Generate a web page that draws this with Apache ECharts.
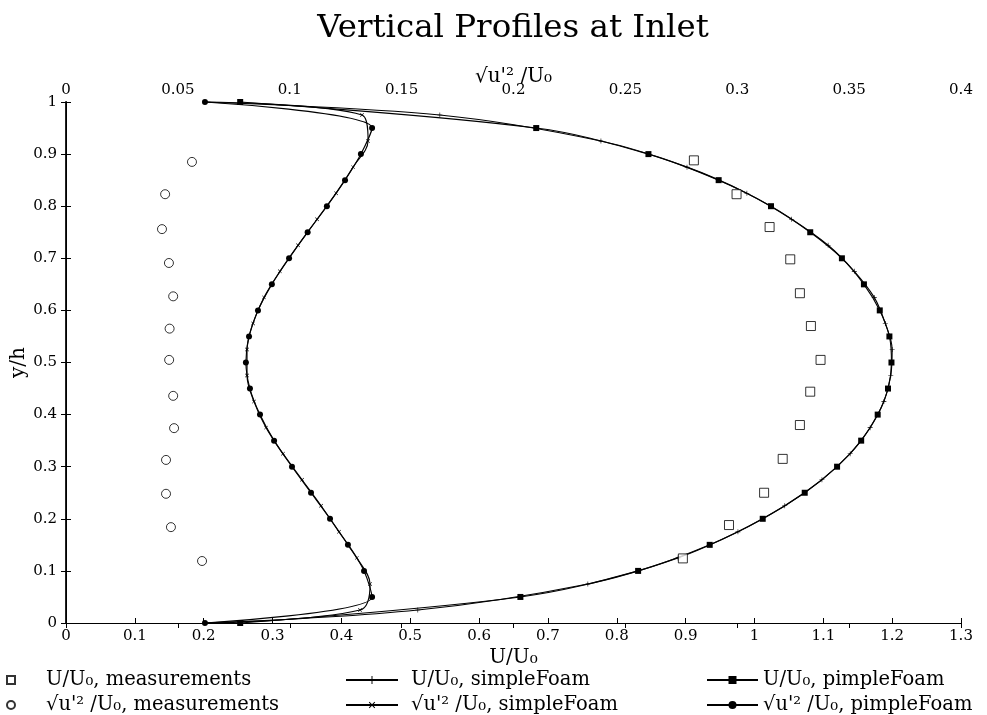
<!DOCTYPE html>
<html><head><meta charset="utf-8">
<script src="https://cdn.jsdelivr.net/npm/echarts@6/dist/echarts.min.js"></script>
<style>html,body{margin:0;padding:0;background:#fff}#c{width:987px;height:715px}</style>
</head><body><div id="c"></div>
<script>
// ---- data ----
const yPimple = [0,0.05,0.1,0.15,0.2,0.25,0.3,0.35,0.4,0.45,0.5,0.55,0.6,0.65,0.7,0.75,0.8,0.85,0.9,0.95,1];
const uPimple = [0.253,0.66,0.831,0.935,1.012,1.073,1.120,1.155,1.179,1.194,1.199,1.196,1.182,1.159,1.127,1.081,1.024,0.948,0.846,0.683,0.253];
const sPimple = [0.0621,0.1368,0.1332,0.126,0.118,0.1095,0.101,0.093,0.0867,0.0822,0.0804,0.0818,0.0858,0.092,0.0997,0.108,0.1166,0.1247,0.1318,0.1368,0.0621];
const ySimple = [0,0.025,0.075,0.125,0.175,0.225,0.275,0.325,0.375,0.425,0.475,0.525,0.575,0.625,0.675,0.725,0.775,0.825,0.875,0.925,0.975,1];
const uSimple = [0.2,0.511,0.758,0.889,0.976,1.044,1.098,1.139,1.168,1.188,1.198,1.200,1.19,1.174,1.145,1.107,1.054,0.989,0.902,0.777,0.543,0.2];
const sSimple = [0.0621,0.1314,0.1359,0.130,0.122,0.114,0.1055,0.097,0.0894,0.084,0.0809,0.0809,0.0836,0.0885,0.0956,0.1037,0.1122,0.1207,0.1283,0.135,0.1323,0.0621];
const yMeasU = [0.124,0.188,0.25,0.315,0.38,0.444,0.505,0.57,0.633,0.698,0.76,0.823,0.888];
const uMeas  = [0.896,0.963,1.014,1.041,1.066,1.081,1.096,1.082,1.066,1.052,1.022,0.974,0.912];
const yMeasS = [0.119,0.184,0.248,0.313,0.374,0.436,0.505,0.565,0.627,0.691,0.756,0.823,0.885];
const sMeas  = [0.0608,0.0469,0.0447,0.0447,0.0483,0.0479,0.0461,0.0463,0.0479,0.0460,0.0429,0.0443,0.0563];
const bottomTicks = {min:0, max:1.3, interval:0.1};
const topTicks = {min:0, max:0.4, interval:0.05};
const yTicks = {min:0, max:1, interval:0.1};
const names = {
  uMeas:'U/U₀, measurements', sMeas:'√u\'² /U₀, measurements',
  uSimple:'U/U₀, simpleFoam', sSimple:'√u\'² /U₀, simpleFoam',
  uPimple:'U/U₀, pimpleFoam', sPimple:'√u\'² /U₀, pimpleFoam'
};
const title = 'Vertical Profiles at Inlet';
// ---- chart ----
const FONT = 'DejaVu Serif';
const PLUS = 'path://M0,4.4H10V5.6H0ZM4.4,0H5.6V10H4.4Z';
function pts(xs, ys, endsNone){
  return ys.map((y,i)=>{
    const o = {value:[xs[i], y]};
    if (endsNone && (i===0 || i===ys.length-1)) o.symbol = 'none';
    return o;
  });
}
const chart = echarts.init(document.getElementById('c'), null, {renderer:'canvas'});
const axLabel = {fontFamily:FONT, fontSize:15, color:'#000'};
const axLine = {show:true, lineStyle:{color:'#000', width:1}};
const tick = {show:true, inside:true, length:5, lineStyle:{color:'#000'}};
const nameStyle = {fontFamily:FONT, fontSize:20, color:'#000'};
const lineBase = {type:'line', smooth:0.35, clip:false, lineStyle:{color:'#000', width:1.1}, itemStyle:{color:'#000'}, emphasis:{disabled:true}, z:3};
const legText = {fontFamily:FONT, fontSize:19.5, color:'#000'};
const legendBase = {selectedMode:false, padding:0, itemHeight:10, textStyle:legText};
chart.setOption({
  animation:false,
  backgroundColor:'#fff',
  title:{text:title, left:508, textAlign:'center', top:7, textStyle:{fontFamily:FONT, fontSize:32.5, fontWeight:'normal', color:'#000'}},
  grid:{left:66, right:26, top:102, bottom:92, outerBoundsMode:'none', containLabel:false},
  xAxis:[
    {type:'value', position:'bottom', min:bottomTicks.min, max:bottomTicks.max, interval:bottomTicks.interval,
     name:'U/U₀', nameLocation:'middle', nameGap:25, nameMoveOverlap:false, nameTextStyle:nameStyle,
     axisLine:axLine, axisTick:tick, splitLine:{show:false}, axisLabel:Object.assign({margin:6}, axLabel)},
    {type:'value', position:'top', min:topTicks.min, max:topTicks.max, interval:topTicks.interval,
     name:'√u\'² /U₀', nameLocation:'middle', nameGap:15, nameMoveOverlap:false, nameTextStyle:nameStyle,
     axisLine:axLine, axisTick:tick, splitLine:{show:false}, axisLabel:Object.assign({margin:4}, axLabel)}
  ],
  yAxis:[
    {type:'value', position:'left', min:yTicks.min, max:yTicks.max, interval:yTicks.interval,
     name:'y/h', nameLocation:'middle', nameGap:37, nameRotate:90, nameMoveOverlap:false, nameTextStyle:nameStyle,
     axisLine:{show:true, lineStyle:{color:'#222', width:2}}, axisTick:tick, splitLine:{show:false}, axisLabel:Object.assign({margin:9}, axLabel)},
    {type:'value', position:'right', min:yTicks.min, max:yTicks.max, interval:yTicks.interval,
     axisLine:axLine, axisTick:tick, splitLine:{show:false}, axisLabel:{show:false}}
  ],
  legend:[
    Object.assign({}, legendBase, {data:[names.uMeas], left:6, top:670, itemWidth:8, itemHeight:8, textStyle:Object.assign({}, legText, {padding:[0,0,0,26]})}),
    Object.assign({}, legendBase, {data:[names.sMeas], left:6, top:695, itemWidth:8, itemHeight:8, textStyle:Object.assign({}, legText, {padding:[0,0,0,26]})}),
    Object.assign({}, legendBase, {data:[names.uSimple], left:345, top:670, itemWidth:52, textStyle:Object.assign({}, legText, {padding:[0,0,0,8]})}),
    Object.assign({}, legendBase, {data:[names.sSimple], left:345, top:695, itemWidth:52, textStyle:Object.assign({}, legText, {padding:[0,0,0,8]})}),
    Object.assign({}, legendBase, {data:[names.uPimple], left:706, top:670, itemWidth:51}),
    Object.assign({}, legendBase, {data:[names.sPimple], left:706, top:695, itemWidth:51})
  ],
  series:[
    {name:names.uMeas, type:'scatter', xAxisIndex:0, yAxisIndex:0, data:pts(uMeas, yMeasU), symbol:'rect', symbolSize:9, clip:false,
     itemStyle:{color:'#fff', borderColor:'#000', borderWidth:1}, emphasis:{disabled:true}, z:4},
    {name:names.sMeas, type:'scatter', xAxisIndex:1, yAxisIndex:0, data:pts(sMeas, yMeasS), symbol:'circle', symbolSize:9, clip:false,
     itemStyle:{color:'#fff', borderColor:'#000', borderWidth:1}, emphasis:{disabled:true}, z:4},
    Object.assign({}, lineBase, {name:names.uSimple, xAxisIndex:0, yAxisIndex:0, data:pts(uSimple, ySimple, true), symbol:PLUS, symbolSize:5}),
    Object.assign({}, lineBase, {name:names.sSimple, xAxisIndex:1, yAxisIndex:0, data:pts(sSimple, ySimple, true), symbol:PLUS, symbolRotate:45, symbolSize:5}),
    Object.assign({}, lineBase, {name:names.uPimple, xAxisIndex:0, yAxisIndex:0, data:pts(uPimple, yPimple), symbol:'rect', symbolSize:6}),
    Object.assign({}, lineBase, {name:names.sPimple, xAxisIndex:1, yAxisIndex:0, data:pts(sPimple, yPimple), symbol:'circle', symbolSize:6})
  ]
});
</script></body></html>
